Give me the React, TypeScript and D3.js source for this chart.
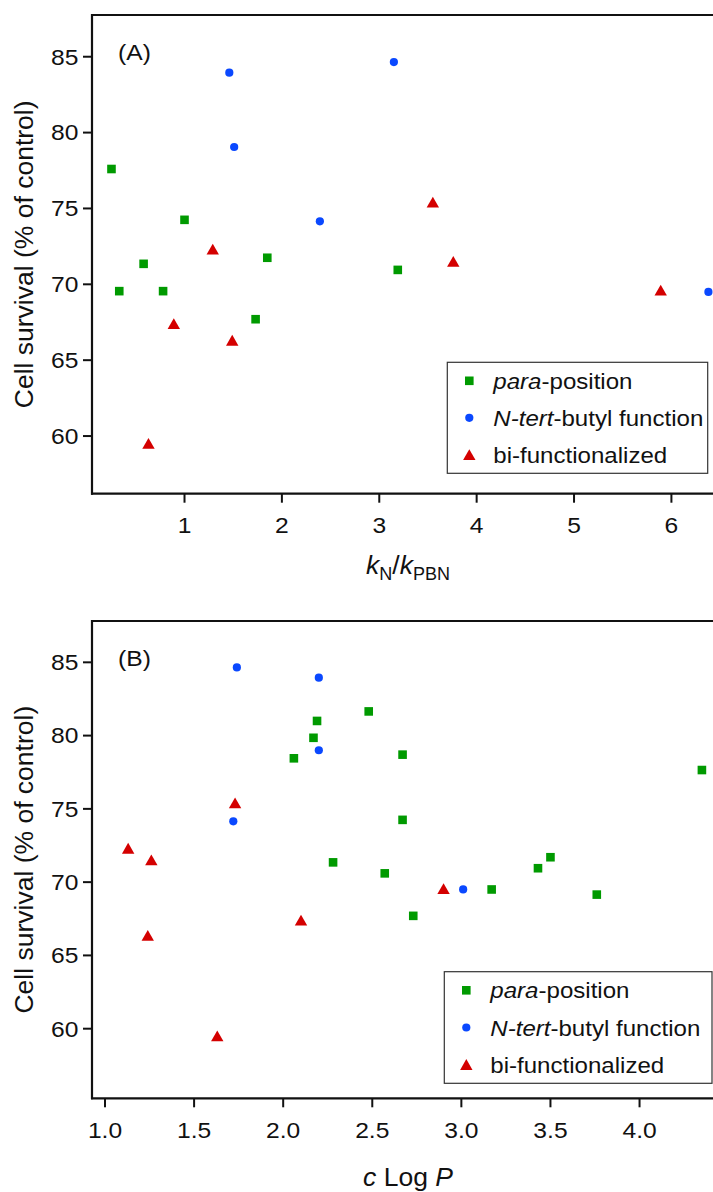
import React from "react";
import * as d3 from "d3";

// ---------- data ----------
const seriesNames = ["para-position", "N-tert-butyl function", "bi-functionalized"];

// Panel A: kN/kPBN vs cell survival
const paraA_x = [0.25, 1.0, 1.85, 0.58, 0.33, 0.78, 1.73, 3.19];
const paraA_y = [77.6, 74.25, 71.75, 71.35, 69.55, 69.55, 67.7, 70.95];
const tertA_x = [1.46, 1.51, 3.15, 2.39, 6.38];
const tertA_y = [83.95, 79.05, 84.65, 74.15, 69.5];
const biA_x = [1.29, 3.55, 3.76, 0.89, 1.49, 0.63, 5.89];
const biA_y = [72.3, 75.4, 71.5, 67.4, 66.3, 59.5, 69.6];

// Panel B: cLogP vs cell survival
const paraB_x = [2.19, 2.17, 2.06, 2.48, 2.67, 4.35, 2.67, 3.5, 2.28, 2.57, 3.43, 3.17, 3.76, 2.73];
const paraB_y = [81.0, 79.85, 78.45, 81.65, 78.7, 77.65, 74.25, 71.7, 71.35, 70.6, 70.95, 69.5, 69.15, 67.7];
const tertB_x = [1.74, 2.2, 2.2, 1.72, 3.01];
const tertB_y = [84.65, 83.95, 79.0, 74.15, 69.5];
const biB_x = [1.73, 1.13, 1.26, 1.24, 2.1, 1.63, 2.9];
const biB_y = [75.4, 72.3, 71.5, 66.35, 67.4, 59.5, 69.55];

const yTicks = [60, 65, 70, 75, 80, 85];
const xTicksA = [1, 2, 3, 4, 5, 6];
const xTicksB = [1.0, 1.5, 2.0, 2.5, 3.0, 3.5, 4.0];

// ---------- style ----------
const GREEN = "#009a00";
const BLUE = "#0a48ff";
const RED = "#d40000";
const FONT = "'Liberation Sans', Arial, Helvetica, sans-serif";
const AX = "#111";
const SX = 1.12;

type Kind = "sq" | "ci" | "tr";

function Marker({ kind, x, y }: { kind: Kind; x: number; y: number }) {
  if (kind === "sq") return <rect x={x - 4.3} y={y - 4.3} width={8.6} height={8.6} fill={GREEN} />;
  if (kind === "ci") return <circle cx={x} cy={y} r={4.1} fill={BLUE} />;
  return <path d={`M${x},${y - 5.6}L${x + 6.2},${y + 5.2}L${x - 6.2},${y + 5.2}Z`} fill={RED} />;
}

function T({ x, y, anchor = "start", size = 22, children }: any) {
  return (
    <text
      transform={`translate(${x},${y}) scale(${SX},1)`}
      textAnchor={anchor}
      fontSize={size}
      fontFamily={FONT}
      fill="#111"
    >
      {children}
    </text>
  );
}

function Panel({
  top, bottom, xDomain, yDomain, xTicks, fmt, label, series, legendBox, xTitle, xTitleY,
}: any) {
  const left = 92;
  const right = 724;
  const x = d3.scaleLinear().domain(xDomain).range([left, right]);
  const y = d3.scaleLinear().domain(yDomain).range([bottom, top]);
  const cy = (top + bottom) / 2;
  const [lx0, ly0, lx1, ly1] = legendBox;
  const rowH = (ly1 - ly0) / 3;
  return (
    <g>
      {/* axes frame */}
      <line x1={left} x2={right + 5} y1={top} y2={top} stroke={AX} strokeWidth={2.2} />
      <line x1={left} x2={left} y1={top - 1} y2={bottom + 1} stroke={AX} strokeWidth={2.2} />
      <line x1={left - 1} x2={right + 5} y1={bottom} y2={bottom} stroke={AX} strokeWidth={2.2} />
      {yTicks.map((t) => (
        <g key={"y" + t}>
          <line x1={left - 9} x2={left} y1={y(t)} y2={y(t)} stroke={AX} strokeWidth={2} />
          <T x={78.5} y={y(t) + 7.9} anchor="end">{String(t)}</T>
        </g>
      ))}
      {xTicks.map((t: number) => (
        <g key={"x" + t}>
          <line x1={x(t)} x2={x(t)} y1={bottom} y2={bottom + 9} stroke={AX} strokeWidth={2} />
          <T x={x(t)} y={bottom + 39.5} anchor="middle">{fmt(t)}</T>
        </g>
      ))}
      <T x={118} y={top + 45} anchor="start">{label}</T>
      <text
        transform={`translate(32.5,${cy}) rotate(-90)`}
        textAnchor="middle"
        fontSize={26.5}
        fontFamily={FONT}
        fill="#111"
      >
        Cell survival (% of control)
      </text>
      <text x={408} y={xTitleY} textAnchor="middle" fontSize={26.5} fontFamily={FONT} fill="#111">
        {xTitle}
      </text>
      {/* points */}
      {series.map((s: any, si: number) =>
        s.xs.map((v: number, i: number) => (
          <Marker key={si + "-" + i} kind={s.kind} x={x(v)} y={y(s.ys[i])} />
        ))
      )}
      {/* legend */}
      <rect x={lx0} y={ly0} width={lx1 - lx0} height={ly1 - ly0} fill="#fff" stroke="#333" strokeWidth={1.2} />
      {(["sq", "ci", "tr"] as Kind[]).map((k, i) => {
        const ry = ly0 + rowH * (i + 0.5);
        return (
          <g key={k}>
            <Marker kind={k} x={lx0 + 22} y={ry} />
            <T x={lx0 + 46} y={ry + 8} size={21.5}>
              {i === 0 ? (
                <>
                  <tspan fontStyle="italic">para</tspan>-position
                </>
              ) : i === 1 ? (
                <>
                  <tspan fontStyle="italic">N-tert</tspan>-butyl function
                </>
              ) : (
                seriesNames[2]
              )}
            </T>
          </g>
        );
      })}
    </g>
  );
}

export default function App() {
  const seriesA = [
    { kind: "sq", xs: paraA_x, ys: paraA_y },
    { kind: "ci", xs: tertA_x, ys: tertA_y },
    { kind: "tr", xs: biA_x, ys: biA_y },
  ];
  const seriesB = [
    { kind: "sq", xs: paraB_x, ys: paraB_y },
    { kind: "ci", xs: tertB_x, ys: tertB_y },
    { kind: "tr", xs: biB_x, ys: biB_y },
  ];
  const titleA = (
    <>
      <tspan fontStyle="italic">k</tspan>
      <tspan fontSize={18} dy={6}>N</tspan>
      <tspan dy={-6}>/</tspan>
      <tspan fontStyle="italic">k</tspan>
      <tspan fontSize={18} dy={6}>PBN</tspan>
    </>
  );
  const titleB = (
    <>
      <tspan fontStyle="italic">c</tspan> Log <tspan fontStyle="italic">P</tspan>
    </>
  );
  return (
    <svg
      width={713}
      height={1192}
      style={{ position: "absolute", left: 0, top: 0, background: "#fff" }}
    >
      <rect width={713} height={1192} fill="#fff" />
      <Panel
        top={15}
        bottom={493.7}
        xDomain={[0.05, 6.54]}
        yDomain={[56.2, 87.75]}
        xTicks={xTicksA}
        fmt={(t: number) => String(t)}
        label="(A)"
        series={seriesA}
        legendBox={[447.3, 362.3, 707.7, 473.3]}
        xTitle={titleA}
        xTitleY={574}
      />
      <Panel
        top={621}
        bottom={1098.3}
        xDomain={[0.927, 4.474]}
        yDomain={[55.25, 87.82]}
        xTicks={xTicksB}
        fmt={(t: number) => t.toFixed(1)}
        label="(B)"
        series={seriesB}
        legendBox={[444.3, 971.7, 712, 1083.3]}
        xTitle={titleB}
        xTitleY={1186}
      />
    </svg>
  );
}
